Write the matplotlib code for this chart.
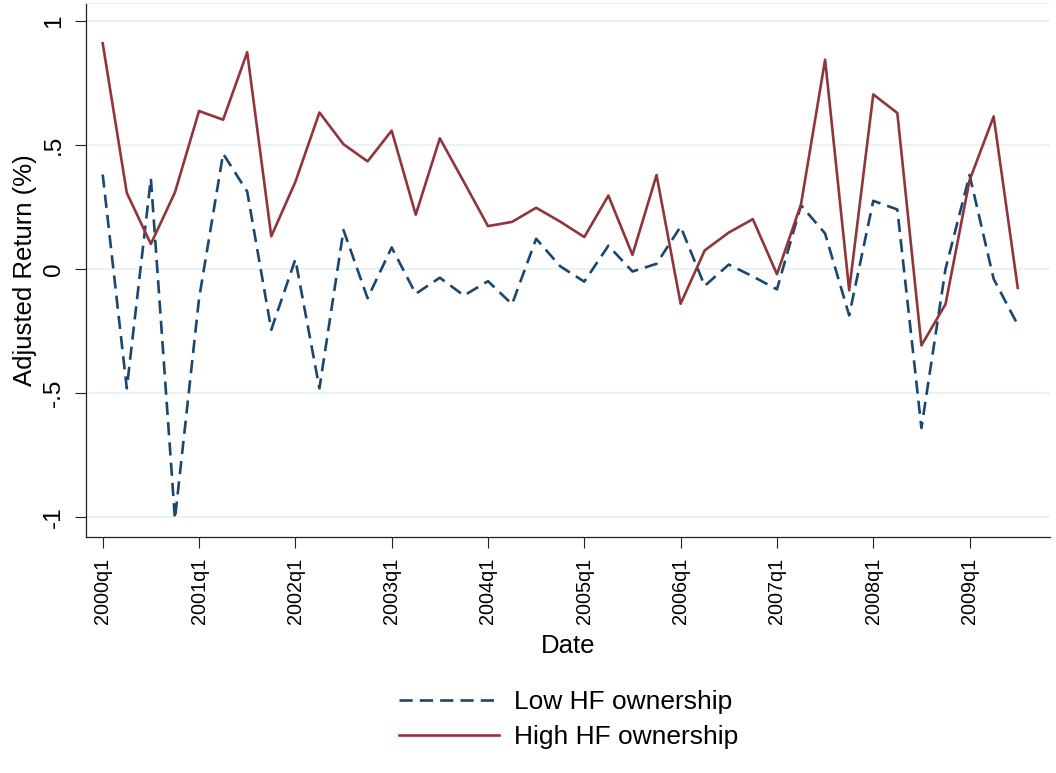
import matplotlib
matplotlib.use('Agg')
import matplotlib.pyplot as plt

# Trimestres 2000q1 .. 2009q3
trimestres = [f'{a}q{q}' for a in range(2000, 2010) for q in range(1, 5)][:39]

retorno_bajo = [0.381, -0.481, 0.365, -1.008, -0.12, 0.465, 0.312, -0.245, 0.039,
                -0.481, 0.157, -0.118, 0.087, -0.100, -0.035, -0.107, -0.049,
                -0.142, 0.122, 0.011, -0.051, 0.094, -0.010, 0.021, 0.171,
                -0.068, 0.018, -0.03, -0.082, 0.257, 0.143, -0.187, 0.275,
                0.240, -0.641, 0.0, 0.379, -0.04, -0.225]

retorno_alto = [0.910, 0.307, 0.101, 0.309, 0.637, 0.602, 0.874, 0.132, 0.351,
                0.631, 0.503, 0.434, 0.558, 0.219, 0.527, 0.351, 0.173, 0.190,
                0.247, 0.191, 0.129, 0.296, 0.057, 0.379, -0.140, 0.075, 0.147,
                0.201, -0.021, 0.261, 0.844, -0.086, 0.704, 0.629, -0.308,
                -0.142, 0.358, 0.615, -0.076]

etiquetas_x = ['2000q1', '2001q1', '2002q1', '2003q1', '2004q1',
               '2005q1', '2006q1', '2007q1', '2008q1', '2009q1']
valores_y = [-1, -0.5, 0, 0.5, 1]
etiquetas_y = ['-1', '-.5', '0', '.5', '1']

plt.rcParams['font.family'] = ['Liberation Sans', 'DejaVu Sans']

fig = plt.figure(figsize=(10.56, 7.73), dpi=100)
ax = fig.add_axes([86/1056, 1 - 537/773, (1050 - 86)/1056, (537 - 3)/773])

x = list(range(len(trimestres)))
linea_baja, = ax.plot(x, retorno_bajo, color='#1a476f', lw=1.9,
                      dashes=(5.0, 2.7), label='Low HF ownership')
linea_alta, = ax.plot(x, retorno_alto, color='#90353b', lw=1.9,
                      label='High HF ownership')

ax.set_xlim(-0.694, 39.34)
ax.set_ylim(-1.0806, 1.0726)

ticks_x = [trimestres.index(t) for t in etiquetas_x]
ax.set_xticks(ticks_x)
ax.set_xticklabels(etiquetas_x, rotation=90, fontsize=14.3)
ax.set_yticks(valores_y)
ax.set_yticklabels(etiquetas_y, rotation=90, va='center', fontsize=17.5)

ax.tick_params(axis='both', length=8, width=0.8, color='#222222', pad=7)
ax.yaxis.grid(True, color='#eaf2f3', lw=1.6)
ax.set_axisbelow(True)

for lado in ['left', 'bottom']:
    ax.spines[lado].set_color('#222222')
    ax.spines[lado].set_linewidth(0.9)
ax.spines['right'].set_visible(False)
ax.spines['top'].set_color('#eef2f3')

ax.set_xlabel('Date', fontsize=18.5, va='center')
ax.xaxis.set_label_coords(0.5, -0.204)
ax.set_ylabel('Adjusted Return (%)', fontsize=18.5, va='center')
ax.yaxis.set_label_coords(-0.0633, 0.5)

fig.legend([linea_baja, linea_alta], ['Low HF ownership', 'High HF ownership'],
           loc='center', bbox_to_anchor=(568.5/1056, 1 - 719.5/773),
           frameon=False, fontsize=19, handlelength=3.8, handletextpad=0.55,
           labelspacing=0.4)

fig.savefig('out.png', dpi=100)
